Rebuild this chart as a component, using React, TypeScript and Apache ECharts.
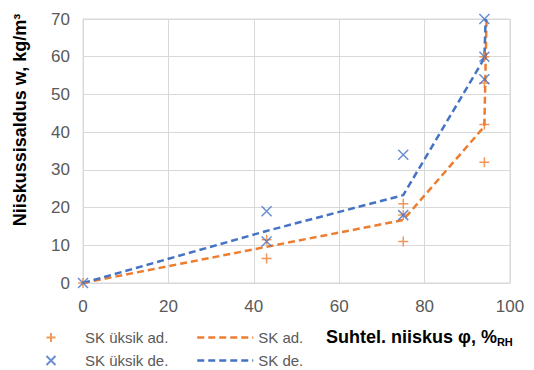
import React, { useEffect, useRef } from "react";
import * as echarts from "echarts";

const adPointsX = [0, 43, 43, 75, 75, 75, 94, 94, 94, 94];
const adPointsY = [0, 6.5, 11.5, 11, 18, 21, 32, 42, 53, 60];
const dePointsX = [0, 43, 43, 75, 75, 94, 94, 94];
const dePointsY = [0, 11, 19, 18, 34, 54, 60, 70];
const adLineX = [0, 43, 75, 94, 94.5];
const adLineY = [0, 9.6, 16.7, 41.5, 70];
const deLineX = [0, 43, 75, 94, 94.3];
const deLineY = [0, 13.8, 23.3, 59.6, 70];
const xTicks = [0, 20, 40, 60, 80, 100];
const yTicks = [0, 10, 20, 30, 40, 50, 60, 70];

const ORANGE = "#ED7D31";
const BLUE = "#4472C4";
const PLUS = "path://M5,0 L5,10 M0,5 L10,5";
const CROSS = "path://M0,0 L10,10 M10,0 L0,10";

const zip = (xs: number[], ys: number[]) => xs.map((x, i) => [x, ys[i]]);

export default function App() {
  const ref = useRef<HTMLDivElement>(null);
  useEffect(() => {
    if (!ref.current) return;
    const chart = echarts.init(ref.current, undefined, { renderer: "svg" });
    const font = "'Liberation Sans', Arial, sans-serif";
    const legendText = { color: "#595959", fontSize: 15, fontFamily: font };
    const markerLegend = (name: string, top: number) => ({
      data: [name],
      left: 44,
      top,
      padding: 0,
      itemWidth: 10,
      itemHeight: 9,
      formatter: (n: string) => `{t|${n}}`,
      textStyle: {
        ...legendText,
        rich: { t: { ...legendText, padding: [0, 0, 0, 24] } },
      },
    });
    const lineLegend = (name: string, top: number) => ({
      data: [name],
      left: 196,
      top,
      padding: 0,
      itemWidth: 56,
      itemHeight: 10,
      itemStyle: { opacity: 0 },
      lineStyle: { width: 2.5 },
      textStyle: legendText,
    });
    chart.setOption({
      animation: false,
      textStyle: { fontFamily: font },
      grid: { left: 83, right: 24, top: 19, bottom: 87, show: true, borderColor: "#d9d9d9", borderWidth: 1 },
      xAxis: {
        type: "value",
        min: xTicks[0],
        max: xTicks[xTicks.length - 1],
        interval: 20,
        axisLine: { show: true, lineStyle: { color: "#d9d9d9", width: 1 } },
        axisTick: { show: false },
        splitLine: { show: true, lineStyle: { color: "#d9d9d9", width: 1 } },
        axisLabel: { color: "#595959", fontSize: 17, margin: 15, fontFamily: font },
      },
      yAxis: {
        type: "value",
        min: yTicks[0],
        max: yTicks[yTicks.length - 1],
        interval: 10,
        axisLine: { show: true, lineStyle: { color: "#d9d9d9", width: 1 } },
        axisTick: { show: false },
        splitLine: { show: true, lineStyle: { color: "#d9d9d9", width: 1 } },
        axisLabel: { color: "#595959", fontSize: 17, margin: 13, fontFamily: font },
      },
      legend: [
        markerLegend("SK üksik ad.", 330),
        markerLegend("SK üksik de.", 353),
        lineLegend("SK ad.", 330),
        lineLegend("SK de.", 353),
      ],
      graphic: [
        {
          type: "text",
          x: 20,
          y: 120,
          rotation: Math.PI / 2,
          style: {
            text: "Niiskussisaldus w, kg/m³",
            fill: "#000",
            font: `bold 18px ${font}`,
            align: "center",
            verticalAlign: "middle",
          },
        },
        {
          type: "text",
          x: 326,
          y: 337,
          style: {
            text: "{b|Suhtel. niiskus φ, %}{s|RH}",
            verticalAlign: "middle",
            rich: {
              b: { font: `bold 18px ${font}`, fill: "#000" },
              s: { font: `bold 11px ${font}`, fill: "#000", padding: [9, 0, 0, 0] },
            },
          },
        },
      ],
      series: [
        {
          name: "SK üksik ad.",
          type: "scatter",
          data: zip(adPointsX, adPointsY),
          symbol: PLUS,
          symbolSize: 10,
          itemStyle: { color: "none", borderColor: ORANGE, borderWidth: 1.5 },
          z: 3,
        },
        {
          name: "SK üksik de.",
          type: "scatter",
          data: zip(dePointsX, dePointsY),
          symbol: CROSS,
          symbolSize: 10,
          itemStyle: { color: "none", borderColor: BLUE, borderWidth: 1.5 },
          z: 4,
        },
        {
          name: "SK ad.",
          type: "line",
          data: zip(adLineX, adLineY),
          symbol: "none",
          color: ORANGE,
          lineStyle: { color: ORANGE, width: 2.5, type: [7, 4] },
          z: 2,
        },
        {
          name: "SK de.",
          type: "line",
          data: zip(deLineX, deLineY),
          symbol: "none",
          color: BLUE,
          lineStyle: { color: BLUE, width: 2.5, type: [7, 4] },
          z: 2,
        },
      ],
    });
    return () => chart.dispose();
  }, []);
  return <div ref={ref} style={{ width: 534, height: 370, position: "absolute", left: 0, top: 0 }} />;
}
